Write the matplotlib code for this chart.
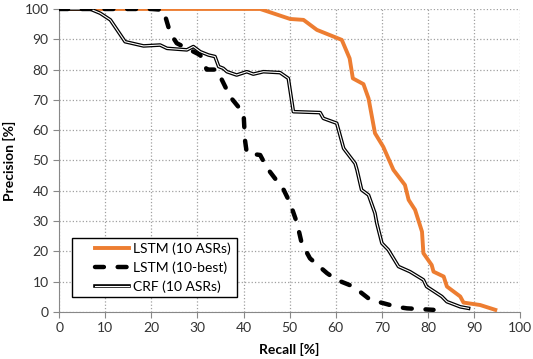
import matplotlib
matplotlib.use("Agg")
import matplotlib.pyplot as plt
import matplotlib.patheffects as pe
from matplotlib.patches import Rectangle

plt.rcParams['font.family'] = ['Lato', 'DejaVu Sans']

# LSTM (10 ASRs)
lstm_x = [0, 43.6, 50.1, 53, 55.9, 61.3, 63, 63.7, 66, 67.1, 68.5, 70.3, 72.5,
          75, 75.8, 77.2, 78.7, 79, 80.8, 81.2, 83.4, 84.1, 87, 87.7, 91.3, 94.6]
lstm_y = [100, 100, 96.7, 96.4, 93.1, 89.8, 83.7, 77.1, 75.2, 70.5, 59, 54.5, 46.9,
          41.9, 37, 33.7, 26.5, 19.4, 15.5, 13.3, 11.7, 8.4, 5.1, 3.1, 2.3, 0.7]

# LSTM (10-best)
best_x = [0, 20, 22.6, 24.1, 25.5, 30.6, 32, 34.2, 37.1, 40, 40.3, 40.7, 43.6, 45.1,
          46.5, 48.7, 50.1, 51.6, 52.6, 54.4, 58.1, 60.2, 63.8, 67.5, 70.3, 73.2, 75.4, 81.2]
best_y = [100, 100, 99.7, 92, 88.7, 84.8, 80, 80, 71, 65.6, 56.8, 52.4, 51.8, 47.5,
          44.7, 40.3, 35.9, 29.3, 22.7, 17.7, 12.8, 10.6, 8.4, 4, 2.9, 1.7, 1.2, 0.7]

# CRF (10 ASRs)
crf_x = [0, 6.7, 8.9, 11.1, 14.3, 18.3, 21.9, 23.4, 27.7, 29.1, 30.6, 32.4, 33.8, 34.6,
         35.6, 36.4, 38.5, 40.7, 42.1, 44.3, 47.9, 49.7, 50.8, 56.6, 57.3, 60.2, 60.6,
         61.7, 64.2, 64.6, 65.6, 67.1, 68.5, 68.9, 70, 71.4, 73.6, 76.1, 79, 79.7, 83,
         84.1, 87, 88.8]
crf_y = [100, 100, 98.6, 96.4, 89.2, 87.8, 88.1, 87, 86.5, 87.6, 85.9, 84.8, 84.3, 81,
         80.4, 79.3, 78.2, 79.3, 78.5, 79.3, 79, 77.1, 66.1, 65.8, 63.9, 62.3, 60.1,
         54, 49, 46.9, 40.3, 38.6, 32.6, 29.3, 22.7, 20.5, 15, 13.3, 10.6, 8.4, 5.1,
         3.4, 1.7, 1.2]

fig = plt.figure(figsize=(5.33, 3.59), dpi=100)
ax = fig.add_axes([0.111, 0.131, 0.865, 0.844])

ax.plot(lstm_x, lstm_y, color='#ED7D31', lw=2.8, label='LSTM (10 ASRs)', zorder=3)
ax.plot(crf_x, crf_y, color='white', lw=0.8, label='CRF (10 ASRs)', zorder=3,
        path_effects=[pe.Stroke(linewidth=2.6, foreground='black'), pe.Normal()])
ax.plot(best_x, best_y, color='black', lw=3.2, linestyle=(0, (2, 3.1)),
        dash_capstyle='round', label='LSTM (10-best)', zorder=3)

ax.set_xlim(0, 100)
ax.set_ylim(0, 100)
ax.set_xticks(range(0, 101, 10))
ax.set_yticks(range(0, 101, 10))
ax.grid(True, color='#a0a0a0', linestyle=':', linewidth=0.9)
ax.set_axisbelow(True)
for s in ['top', 'right']:
    ax.spines[s].set_visible(False)
for s in ['left', 'bottom']:
    ax.spines[s].set_color('#888888')
ax.tick_params(colors='#888888', labelcolor='#333333', labelsize=10, length=4)

ax.set_xlabel('Recall [%]', fontsize=10, fontweight='bold', labelpad=6)
ax.set_ylabel('Precision [%]', fontsize=10, fontweight='bold', labelpad=6)

# legend box drawn separately so the padding matches the original
ax.add_patch(Rectangle((0.028, 0.0495), 0.358, 0.195, transform=ax.transAxes,
                       facecolor='white', edgecolor='black', lw=1.0, zorder=4))
h, l = ax.get_legend_handles_labels()
order = [0, 2, 1]
leg = ax.legend([h[i] for i in order], [l[i] for i in order],
                loc='center left', bbox_to_anchor=(0.078, 0.147), fontsize=10,
                frameon=False, borderaxespad=0, borderpad=0,
                handlelength=2.45, handletextpad=0.25, labelspacing=0.45)
leg.set_zorder(5)

fig.savefig('out.png', dpi=100)
